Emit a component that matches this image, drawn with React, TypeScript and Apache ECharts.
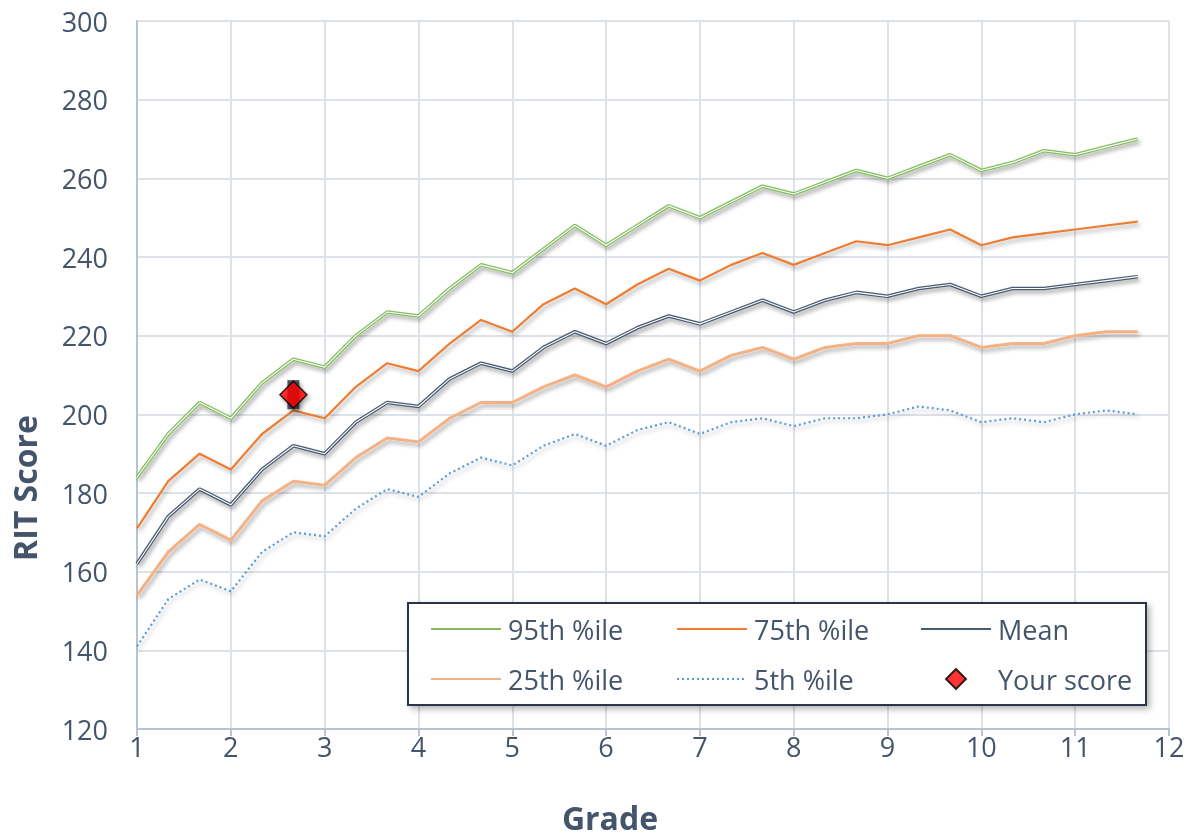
import React, { useEffect, useRef } from "react";
import * as echarts from "echarts";

const grades = [
  1, 1.333, 1.667, 2, 2.333, 2.667, 3, 3.333, 3.667, 4, 4.333, 4.667, 5, 5.333, 5.667, 6, 6.333,
  6.667, 7, 7.333, 7.667, 8, 8.333, 8.667, 9, 9.333, 9.667, 10, 10.333, 10.667, 11, 11.333, 11.667,
];
const p95 = [
  184, 195, 203, 199, 208, 214, 212, 220, 226, 225, 232, 238, 236, 242, 248, 243, 248, 253, 250, 254,
  258, 256, 259, 262, 260, 263, 266, 262, 264, 267, 266, 268, 270,
];
const p75 = [
  171, 183, 190, 186, 195, 201, 199, 207, 213, 211, 218, 224, 221, 228, 232, 228, 233, 237, 234, 238,
  241, 238, 241, 244, 243, 245, 247, 243, 245, 246, 247, 248, 249,
];
const mean = [
  162, 174, 181, 177, 186, 192, 190, 198, 203, 202, 209, 213, 211, 217, 221, 218, 222, 225, 223, 226,
  229, 226, 229, 231, 230, 232, 233, 230, 232, 232, 233, 234, 235,
];
const p25 = [
  154, 165, 172, 168, 178, 183, 182, 189, 194, 193, 199, 203, 203, 207, 210, 207, 211, 214, 211, 215,
  217, 214, 217, 218, 218, 220, 220, 217, 218, 218, 220, 221, 221,
];
const p5 = [
  141, 153, 158, 155, 165, 170, 169, 176, 181, 179, 185, 189, 187, 192, 195, 192, 196, 198, 195, 198,
  199, 197, 199, 199, 200, 202, 201, 198, 199, 198, 200, 201, 200,
];
const yourScore: [number, number][] = [[2.667, 205]];

const FONT = "Open Sans";
const TEXT = "#44546a";

const zip = (ys: number[]) => grades.map((g, i) => [g, ys[i]]);

const shadow = {
  shadowColor: "rgba(0,0,0,0.35)",
  shadowBlur: 4,
  shadowOffsetX: 2,
  shadowOffsetY: 3,
};

export default function App() {
  const ref = useRef<HTMLDivElement>(null);
  useEffect(() => {
    if (!ref.current) return;
    const chart = echarts.init(ref.current, null, { renderer: "svg" });
    const lineSeries = (name: string, ys: number[], color: string, width: number, type: any = "solid", z = 2) => ({
      name,
      type: "line",
      data: zip(ys),
      symbol: "circle",
      symbolSize: 0,
      showSymbol: false,
      z,
      lineStyle: { color, width, type, ...shadow },
      itemStyle: { color, opacity: 0 },
    });
    const inner = (ys: number[]) => ({
      type: "line",
      data: zip(ys),
      symbol: "none",
      z: 3,
      silent: true,
      lineStyle: { color: "#ffffff", width: 1.1 },
      itemStyle: { color: "#ffffff" },
    });
    const legendCommon = {
      orient: "vertical",
      top: 609,
      itemWidth: 70,
      itemHeight: 14,
      itemGap: 20,
      z: 5,
      symbolKeepAspect: true,
      textStyle: { fontFamily: FONT, fontSize: 27, color: TEXT, lineHeight: 30, padding: [0, 0, 0, 2] },
      selectedMode: false,
    };
    chart.setOption({
      animation: false,
      grid: { left: 137, right: 23, top: 21, bottom: 111, containLabel: false, outerBoundsMode: "none" },
      xAxis: {
        type: "value",
        min: 1,
        max: 12,
        interval: 1,
        name: "Grade",
        nameLocation: "middle",
        nameGap: 71,
        nameTextStyle: {
          fontFamily: FONT,
          fontSize: 32,
          lineHeight: 34,
          fontWeight: "bold",
          color: TEXT,
          padding: [0, 86, 0, 0],
        },
        axisLine: { show: true, lineStyle: { color: "#b8c3d2", width: 2 } },
        axisTick: { show: true, length: 7, lineStyle: { color: "#b8c3d2", width: 2 } },
        axisLabel: { fontFamily: FONT, fontSize: 27, color: TEXT, margin: 4 },
        splitLine: { show: true, lineStyle: { color: "#dde1e8", width: 2 } },
      },
      yAxis: {
        type: "value",
        min: 120,
        max: 300,
        interval: 20,
        name: "RIT Score",
        nameLocation: "middle",
        nameGap: 96,
        nameTextStyle: {
          fontFamily: FONT,
          fontSize: 32,
          lineHeight: 34,
          fontWeight: "bold",
          color: TEXT,
          padding: [0, 226, 0, 0],
        },
        axisLine: { show: true, lineStyle: { color: "#b8c3d2", width: 2 } },
        axisTick: { show: false },
        axisLabel: { fontFamily: FONT, fontSize: 27, color: TEXT, margin: 29 },
        splitLine: { show: true, lineStyle: { color: "#dde1e8", width: 2 } },
      },
      legend: [
        { ...legendCommon, left: 425, data: ["95th %ile", "25th %ile"] },
        { ...legendCommon, left: 671, data: ["75th %ile", "5th %ile"] },
        {
          ...legendCommon,
          left: 915,
          itemHeight: 20,
          itemGap: 20,
          data: ["Mean", { name: "Your score", icon: "path://M10,0 L20,10 L10,20 L0,10 Z" }],
        },
      ],
      graphic: [
        {
          type: "rect",
          z: 4,
          shape: { x: 408, y: 603, width: 738, height: 102 },
          style: {
            fill: "#ffffff",
            stroke: "#2b3648",
            lineWidth: 2,
            shadowBlur: 6,
            shadowOffsetX: 3,
            shadowOffsetY: 3,
            shadowColor: "rgba(0,0,0,0.3)",
          },
        },
      ],
      series: [
        lineSeries("5th %ile", p5, "#5b9bd5", 2.2, [2, 3]),
        lineSeries("25th %ile", p25, "#f4b183", 3),
        lineSeries("Mean", mean, "#4a5a70", 3.6),
        inner(mean),
        lineSeries("75th %ile", p75, "#ed7d31", 2.2),
        lineSeries("95th %ile", p95, "#84bd5f", 3.6),
        inner(p95),
        {
          type: "scatter",
          data: yourScore,
          symbol: "rect",
          symbolSize: [12, 29],
          z: 6,
          silent: true,
          itemStyle: { color: "#1f2938", ...shadow },
        },
        {
          name: "Your score",
          type: "scatter",
          data: yourScore,
          symbol: "diamond",
          symbolSize: 27,
          symbolKeepAspect: true,
          z: 7,
          itemStyle: { color: "#ff0000", borderColor: "#000000", borderWidth: 1.5, ...shadow },
        },
      ],
    });
    return () => chart.dispose();
  }, []);
  return <div ref={ref} style={{ position: "fixed", left: 0, top: 0, width: 1192, height: 840 }} />;
}
